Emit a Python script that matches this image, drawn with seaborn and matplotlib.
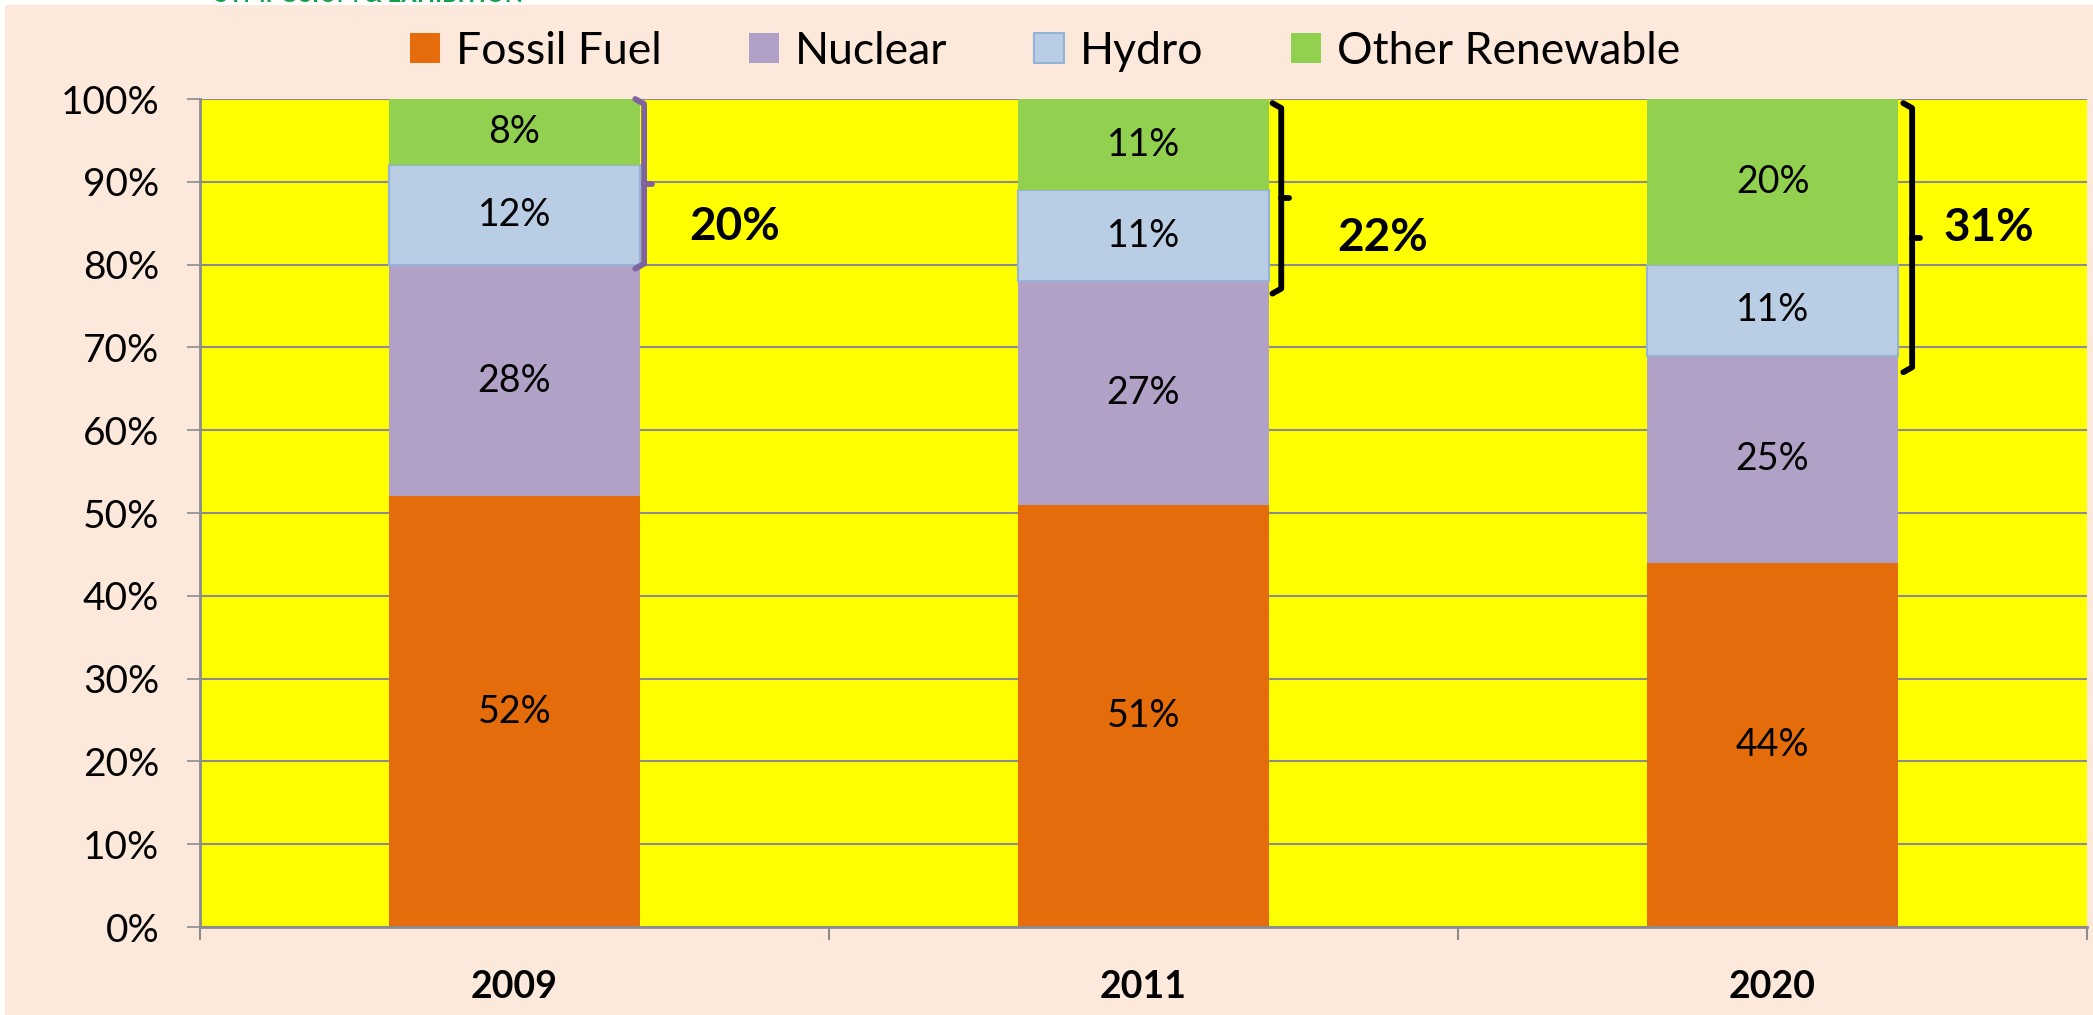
import numpy as np
import pandas as pd
import matplotlib
matplotlib.use("Agg")
import matplotlib.pyplot as plt
from matplotlib.patches import Rectangle
import seaborn as sns

# ---------------- data ----------------
years = ["2009", "2011", "2020"]
series_names = ["Fossil Fuel", "Nuclear", "Hydro", "Other Renewable"]
fossil = [52, 51, 44]
nuclear = [28, 27, 25]
hydro = [12, 11, 11]
other = [8, 11, 20]
yticks = list(range(0, 101, 10))

# ---------------- style ----------------
sns.set_style("white")
plt.rcParams["font.family"] = ["Lato", "DejaVu Sans"]
plt.rcParams["text.color"] = "black"
plt.rcParams["xtick.color"] = "black"
plt.rcParams["ytick.color"] = "black"
plt.rcParams["axes.labelcolor"] = "black"

W, H = 2093, 1015
fig = plt.figure(figsize=(W / 100, H / 100), dpi=100)
fig.patch.set_facecolor("white")

PEACH = "#FDE9DB"
fig.patches.append(Rectangle((5 / W, 0), 1, 1 - 5 / H, transform=fig.transFigure,
                             facecolor=PEACH, edgecolor="none", zorder=-10))
fig.text(215 / W, 1 - 2.5 / H, "SYMPOSIUM & EXHIBITION", color="#13A24A",
         fontsize=17, fontweight="bold", va="baseline", ha="left", zorder=-5)

ax = fig.add_axes([200 / W, 1 - 927 / H, 1887 / W, 828 / H])
ax.set_facecolor("#FFFF00")

colors = ["#E46C0A", "#B2A1C7", "#B9CDE5", "#92D050"]
edges = ["none", "none", "#95B3D7", "none"]

values = [fossil, nuclear, hydro, other]
bottom = np.zeros(len(years))
for name, vals, col, ec in zip(series_names, values, colors, edges):
    sns.barplot(x=years, y=vals, bottom=bottom.copy(), color=col, saturation=1,
                width=0.4, edgecolor=ec, linewidth=1.5 if ec != "none" else 0,
                label=name, ax=ax, zorder=3)
    bottom += np.array(vals)
if ax.get_legend() is not None:
    ax.get_legend().remove()

for cont, vals in zip(ax.containers, values):
    ax.bar_label(cont, labels=[f"{v}%" for v in vals], label_type="center",
                 fontsize=27, color="black")

ax.set_xlim(-0.5, 2.5)
ax.set_ylim(0, 100)
ax.set_yticks(yticks)
ax.set_yticklabels([f"{t}%" for t in yticks], fontsize=28)
ax.tick_params(axis="y", length=9.4, width=1.2, color="#8C8C8C", labelcolor="black",
               pad=20, left=True)

ax.set_xticks(range(len(years)))
ax.set_xticklabels(years, fontsize=27, fontweight="bold")
ax.tick_params(axis="x", which="major", length=0, pad=31, labelcolor="black")
ax.set_xticks([-0.5, 0.5, 1.5, 2.5], minor=True)
ax.tick_params(axis="x", which="minor", length=9.4, width=1.5, color="#8C8C8C",
               bottom=True)
ax.set_xlabel("")
ax.set_ylabel("")

ax.yaxis.grid(True, color="#8C8C8C", linewidth=1.5, zorder=0)
ax.set_axisbelow(True)
for s in ["top", "right"]:
    ax.spines[s].set_visible(False)
for s in ["left", "bottom"]:
    ax.spines[s].set_color("#8C8C8C")
    ax.spines[s].set_linewidth(2)
    ax.spines[s].set_zorder(5)

# ---------------- brackets & totals ----------------
renew = [h + o for h, o in zip(hydro, other)]
br_colors = ["#8064A2", "black", "black"]
br_offset = [0.006, 0.019, 0.022]
br_top = [100.0, 99.5, 99.5]
br_bot = [79.5, 76.5, 67.0]
lab_xy = [(0.35, 84.5), (1.38, 83.2), (2.344, 84.4)]
hook = 0.014
nub = 0.012
for i in range(len(years)):
    x = i + 0.2 + br_offset[i]
    ax.plot([x - hook, x, x, x - hook], [br_top[i], br_top[i] - 0.6, br_bot[i] + 0.6, br_bot[i]],
            color=br_colors[i], lw=4.2, solid_joinstyle="round",
            solid_capstyle="round", zorder=6, clip_on=False)
    ym = (br_top[i] + br_bot[i]) / 2
    ax.plot([x, x + nub], [ym, ym], color=br_colors[i], lw=4.2,
            solid_capstyle="round", zorder=6, clip_on=False)
    ax.text(lab_xy[i][0], lab_xy[i][1], f"{renew[i]}%", fontsize=33,
            fontweight="bold", ha="center", va="center", zorder=7)

# ---------------- legend ----------------
handles = ax.containers[:4]
leg = fig.legend(handles, series_names, loc="center", bbox_to_anchor=(0.4993, 1 - 51 / H),
                 ncol=4, frameon=False, fontsize=32, handlelength=0.68, handleheight=0.68,
                 handletextpad=0.36, columnspacing=1.95, borderpad=0)
for t in leg.get_texts():
    t.set_color("black")

fig.savefig("out.png", dpi=100, facecolor=fig.get_facecolor())
